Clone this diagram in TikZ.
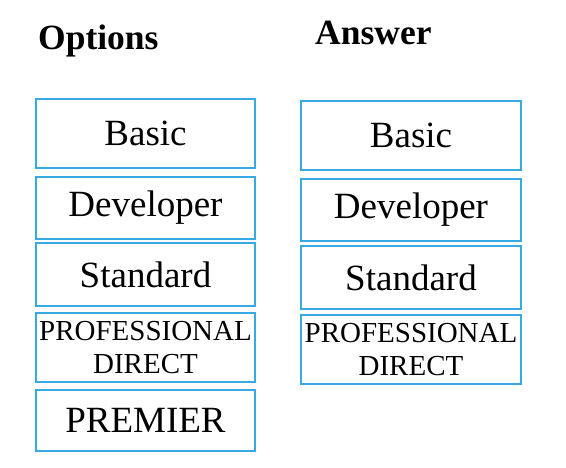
\documentclass[tikz,border=0pt]{standalone}
\usepackage{fontspec}
\setmainfont{Liberation Serif}
\definecolor{boxblue}{RGB}{55,170,225}

\tikzset{
  optbox/.style={draw=boxblue,line width=2pt,fill=white,inner sep=0pt,outer sep=0pt,
    minimum width=219pt,align=center,font=\fontsize{37}{40}\selectfont},
  ansbox/.style={optbox,minimum width=220pt},
  twoline/.style={font=\fontsize{29}{33}\selectfont},
  heading/.style={anchor=base west,inner sep=0pt,font=\fontsize{35.5}{40}\selectfont\bfseries}
}

\begin{document}
\begin{tikzpicture}[x=1pt,y=-1pt]
\useasboundingbox (0,0) rectangle (566,468);
% left column
\node[heading] (optTitle) at (38,50) {Options};
\node[optbox,minimum height=69pt] (optBasic) at (145.5,133.5) {Basic};
\node[optbox,minimum height=62pt] (optDev) at (145.5,208) {Developer};
\node[optbox,minimum height=63pt] (optStd) at (145.5,274.5) {Standard};
\node[optbox,twoline,minimum height=69pt] (optPro) at (145.5,347.5) {PROFESSIONAL\\DIRECT};
\node[optbox,minimum height=61pt] (optPrem) at (145.5,420.5) {PREMIER};

% right column
\node[heading] (ansTitle) at (315,45) {Answer};
\node[ansbox,minimum height=69pt] (ansBasic) at (411,135.5) {Basic};
\node[ansbox,minimum height=62pt] (ansDev) at (411,210) {Developer};
\node[ansbox,minimum height=63pt] (ansStd) at (411,277.5) {Standard};
\node[ansbox,twoline,minimum height=69pt] (ansPro) at (411,349.5) {PROFESSIONAL\\DIRECT};
\end{tikzpicture}
\end{document}
